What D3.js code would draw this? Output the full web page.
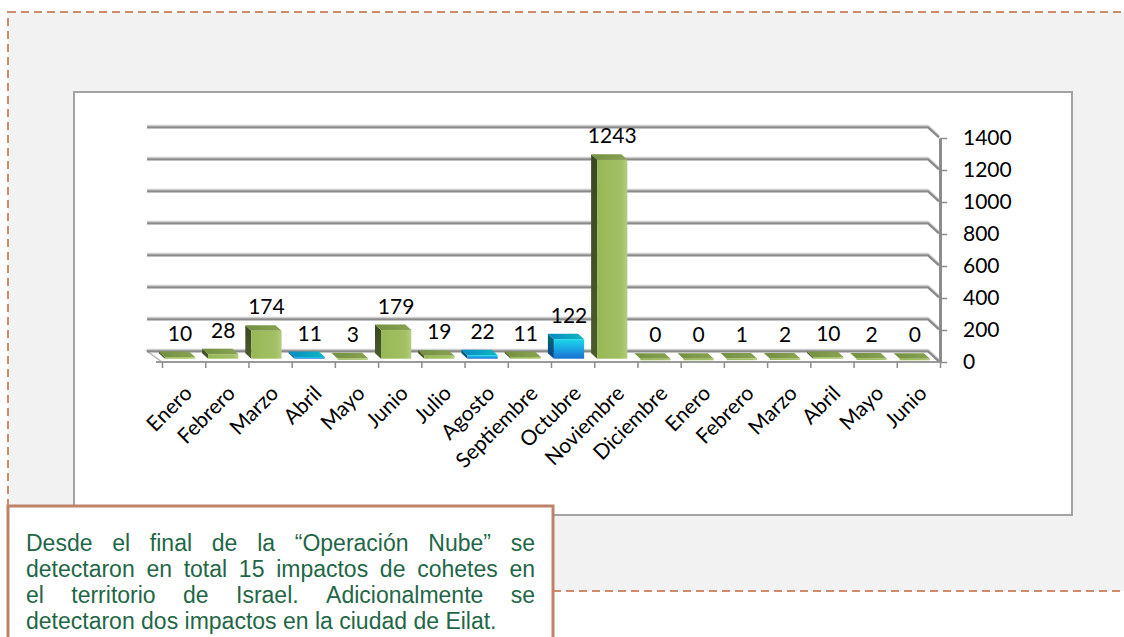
<!DOCTYPE html>
<html>
<head>
<meta charset="utf-8">
<script src="https://cdn.jsdelivr.net/npm/d3@7"></script>
<style>
  html, body { margin: 0; padding: 0; background: #ffffff; }
  svg { display: block; }
</style>
</head>
<body>
<svg id="chart" width="1124" height="637"></svg>
<script>
// ---------- data ----------
const categories = ["Enero","Febrero","Marzo","Abril","Mayo","Junio","Julio","Agosto","Septiembre","Octubre","Noviembre","Diciembre","Enero","Febrero","Marzo","Abril","Mayo","Junio"];
const values = [10, 28, 174, 11, 3, 179, 19, 22, 11, 122, 1243, 0, 0, 1, 2, 10, 2, 0];
const highlightIdx = [3, 7, 9];
const yTicks = [0, 200, 400, 600, 800, 1000, 1200, 1400];
const noteLines = [
  "Desde el final de la “Operación Nube” se",
  "detectaron en total 15 impactos de cohetes en",
  "el territorio de Israel. Adicionalmente se",
  "detectaron dos impactos en la ciudad de Eilat."
];

// ---------- layout ----------
const svg = d3.select("#chart");
const W = 1124, H = 637;
const plot = { left: 162, right: 940, base: 362, top: 138 };
const DX = -12, DY = -11;          // full depth projection
const t0 = 0.3, t1 = 0.8;          // bar depth slice
const chartFont = "Lato, 'Open Sans', sans-serif";
const chartSize = 21;

const defs = svg.append("defs");
function lin(id, x2, y2, stops) {
  const g = defs.append("linearGradient").attr("id", id)
    .attr("x1", 0).attr("y1", 0).attr("x2", x2).attr("y2", y2);
  stops.forEach(([o, c]) => g.append("stop").attr("offset", o).attr("stop-color", c));
}
lin("gFront", 1, 0, [[0, "#97b856"], [0.8, "#a2c064"], [1, "#b3cd7f"]]);
lin("gSide", 0, 1, [[0, "#3b4824"], [1, "#4b5b2e"]]);
lin("gTop", 1, 0, [[0, "#738f41"], [1, "#87a352"]]);
lin("bFront", 0, 1, [[0, "#1ad8ea"], [0.5, "#1aa6e2"], [1, "#1b6fd4"]]);
lin("bSide", 0, 1, [[0, "#02706e"], [1, "#0b3f8c"]]);
lin("bTop", 1, 0, [[0, "#078bc4"], [1, "#10b6c0"]]);

// outer dashed panel
svg.append("rect")
  .attr("x", 8).attr("y", 12).attr("width", W + 20).attr("height", 579)
  .attr("fill", "#f2f2f2")
  .attr("stroke", "#d08a6c").attr("stroke-width", 2)
  .attr("stroke-dasharray", "8,5");

// chart area
svg.append("rect")
  .attr("x", 74).attr("y", 92).attr("width", 998).attr("height", 423)
  .attr("fill", "#ffffff").attr("stroke", "#a3a3a3").attr("stroke-width", 2);

// ---------- scales ----------
const n = categories.length;
const x = d3.scaleBand().domain(d3.range(n)).range([plot.left, plot.right])
  .paddingInner(0.3).paddingOuter(0.15);
const xb = d3.scaleLinear().domain([0, n]).range([plot.left, plot.right]);
const y = d3.scaleLinear().domain([0, 1400]).range([plot.base, plot.top]);

// ---------- floor ----------
const floor = [
  [plot.left, plot.base], [plot.right, plot.base],
  [plot.right + DX, plot.base + DY], [plot.left + DX - 3, plot.base + DY]
];
svg.append("path").attr("d", d3.line()(floor) + "Z")
  .attr("fill", "#ffffff").attr("stroke", "#b5b5b5").attr("stroke-width", 1.5);

// ---------- gridlines (back wall + right side wall) ----------
const grid = svg.append("g");
yTicks.forEach(v => {
  const yb = y(v) + DY;
  const pts = [[plot.left + DX - 3, yb], [plot.right + DX, yb], [plot.right - 1, y(v) - 1]];
  grid.append("path").attr("d", d3.line()(pts.map(p => [p[0], p[1] - 1.4])))
    .attr("fill", "none").attr("stroke", "#d0d0d0").attr("stroke-width", 1.8);
  grid.append("path").attr("d", d3.line()(pts.map(p => [p[0], p[1] + 0.4])))
    .attr("fill", "none").attr("stroke", "#8a8a8a").attr("stroke-width", 2.2);
});

// floor front edge
svg.append("line")
  .attr("x1", plot.left - 6).attr("x2", plot.right)
  .attr("y1", plot.base).attr("y2", plot.base)
  .attr("stroke", "#9a9a9a").attr("stroke-width", 2.2);

// ---------- bars ----------
const bars = svg.append("g");
const bdx = (t1 - t0) * DX, bdy = (t1 - t0) * DY;
values.forEach((v, i) => {
  const blue = highlightIdx.includes(i);
  const xL = x(i) + t0 * DX;
  const w = x.bandwidth();
  const yB = y(0) + t0 * DY;
  const yT = y(v) + t0 * DY;
  const side = [[xL, yB], [xL, yT], [xL + bdx, yT + bdy], [xL + bdx, yB + bdy]];
  const top = [[xL, yT], [xL + w, yT], [xL + w + bdx, yT + bdy], [xL + bdx, yT + bdy]];
  bars.append("path").attr("d", d3.line()(side) + "Z")
    .attr("fill", blue ? "url(#bSide)" : "url(#gSide)");
  bars.append("path").attr("d", d3.line()(top) + "Z")
    .attr("fill", blue ? "url(#bTop)" : "url(#gTop)");
  bars.append("rect")
    .attr("x", xL).attr("y", yT).attr("width", w).attr("height", Math.max(1.6, yB - yT))
    .attr("fill", blue ? "url(#bFront)" : "url(#gFront)");
});

// ---------- data labels ----------
svg.append("g").selectAll("text").data(values).join("text")
  .attr("x", (d, i) => x(i) + x.bandwidth() / 2 + t0 * DX)
  .attr("y", d => y(d) + t0 * DY - 24)
  .attr("dy", "0.36em")
  .attr("text-anchor", "middle")
  .attr("font-family", chartFont).attr("font-size", chartSize).attr("fill", "#000")
  .text(d => d);

// ---------- right value axis ----------
const yAxis = svg.append("g")
  .attr("transform", `translate(${plot.right},0)`)
  .call(d3.axisRight(y).tickValues(yTicks).tickFormat(d3.format("d"))
    .tickSize(7).tickPadding(16).tickSizeOuter(0));
yAxis.select(".domain").attr("stroke", "#8c8c8c").attr("stroke-width", 3);
yAxis.selectAll(".tick line").attr("stroke", "#8c8c8c").attr("stroke-width", 1.5);
yAxis.selectAll(".tick text")
  .attr("font-family", chartFont).attr("font-size", chartSize).attr("fill", "#000");

// ---------- bottom category axis ----------
const xAxis = svg.append("g")
  .attr("transform", `translate(0,${plot.base})`)
  .call(d3.axisBottom(xb).tickValues(d3.range(n + 1)).tickSize(6).tickFormat(""));
xAxis.select(".domain").remove();
xAxis.selectAll(".tick line").attr("stroke", "#8c8c8c").attr("stroke-width", 1.5);

svg.append("g").selectAll("text").data(categories).join("text")
  .attr("transform", (d, i) => `translate(${x(i) + x.bandwidth() / 2 - 1},${plot.base + 22}) rotate(-45)`)
  .attr("dy", "0.72em")
  .attr("text-anchor", "end")
  .attr("font-family", chartFont).attr("font-size", chartSize).attr("fill", "#000")
  .text(d => d);

// ---------- note box ----------
svg.append("rect")
  .attr("x", 8).attr("y", 506).attr("width", 545).attr("height", 160)
  .attr("fill", "#ffffff").attr("stroke", "#c0836a").attr("stroke-width", 3);

const noteLeft = 26, noteRight = 535, noteSize = 23, lineH = 26, firstBase = 551;
const note = svg.append("g")
  .attr("font-family", "'Liberation Sans', Arial, sans-serif")
  .attr("font-size", noteSize).attr("fill", "#1f6747");
noteLines.forEach((line, li) => {
  const yy = firstBase + li * lineH;
  const justify = li < noteLines.length - 1;
  if (!justify) {
    note.append("text").attr("x", noteLeft).attr("y", yy).text(line);
    return;
  }
  const words = line.split(" ");
  const t = note.append("text").attr("y", yy);
  const spans = words.map(wd => t.append("tspan").attr("x", noteLeft).text(wd));
  const widths = spans.map(s => s.node().getComputedTextLength());
  const total = d3.sum(widths);
  const gap = (noteRight - noteLeft - total) / (words.length - 1);
  let cx = noteLeft;
  spans.forEach((s, k) => { s.attr("x", cx); cx += widths[k] + gap; });
});
</script>
</body>
</html>
